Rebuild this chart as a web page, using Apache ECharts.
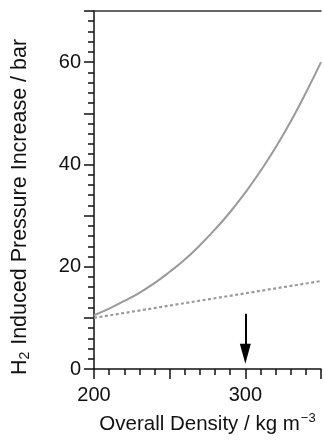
<!DOCTYPE html>
<html>
<head>
<meta charset="utf-8">
<script src="https://cdn.jsdelivr.net/npm/echarts@6/dist/echarts.min.js"></script>
<style>html,body{margin:0;padding:0;background:#fff;}#c{width:324px;height:440px;}</style>
</head>
<body>
<div id="c"></div>
<script>
// Data
const densityTotal = [200, 210, 220, 230, 240, 250, 260, 270, 280, 290, 300, 310, 320, 330, 340, 350];
const pressureTotal = [10.5, 11.8, 13.3, 14.9, 16.8, 19.0, 21.4, 24.2, 27.3, 30.7, 34.5, 38.7, 43.3, 48.4, 54.0, 60.0];
const densityDotted = [200, 250, 300, 350];
const pressureDotted = [10.0, 12.4, 14.8, 17.2];
const arrowX = 300;
const arrowFrom = 10.8;
const arrowTo = 3;
const xTickLabels = [200, 300];
const yTickLabels = [0, 20, 40, 60];

const FONT = 'Liberation Sans';
const INK = '#111';
const GRAY = '#9a9a9a';

const chart = echarts.init(document.getElementById('c'), null, {renderer: 'canvas'});
chart.setOption({
  backgroundColor: '#fff',
  animation: false,
  grid: {left: 92, top: 11, right: 0, bottom: 67},
  xAxis: [{
    type: 'value', min: 200, max: 350, interval: 50,
    axisLine: {show: true, onZero: false, lineStyle: {color: INK, width: 1.5}},
    axisTick: {show: true, inside: false, length: 10, lineStyle: {color: INK, width: 1.5}},
    minorTick: {show: true, splitNumber: 5, length: 6, lineStyle: {color: INK, width: 1.5}},
    splitLine: {show: false},
    axisLabel: {
      margin: 16, fontFamily: FONT, fontSize: 20, color: INK,
      formatter: v => xTickLabels.includes(v) ? String(v) : ''
    },
    name: '{n|Overall Density / kg m}{s|−3}',
    nameLocation: 'middle', nameGap: 43,
    nameTextStyle: {
      rich: {
        n: {fontFamily: FONT, fontSize: 20.5, color: INK, lineHeight: 24},
        s: {fontFamily: FONT, fontSize: 13, color: INK, verticalAlign: 'top', lineHeight: 24, padding: [0, 0, 10, 1]}
      }
    }
  }, {
    type: 'value', min: 200, max: 350, position: 'top',
    axisLine: {show: true, onZero: false, lineStyle: {color: '#333', width: 1.5}},
    axisTick: {show: false}, axisLabel: {show: false}, splitLine: {show: false}
  }],
  yAxis: {
    type: 'value', min: 0, max: 70, interval: 10,
    axisLine: {show: true, onZero: false, lineStyle: {color: INK, width: 1.5}},
    axisTick: {show: true, inside: false, length: 10, lineStyle: {color: INK, width: 1.5}},
    minorTick: {show: true, splitNumber: 5, length: 6, lineStyle: {color: INK, width: 1.5}},
    splitLine: {show: false},
    axisLabel: {
      margin: 13, fontFamily: FONT, fontSize: 20, color: INK,
      formatter: v => yTickLabels.includes(v) ? String(v) : ''
    },
    name: '{n|H}{b|2}{n| Induced Pressure Increase / bar}',
    nameLocation: 'middle', nameGap: 62, nameRotate: 90,
    nameTextStyle: {
      padding: [0, 34, 0, 0],
      rich: {
        n: {fontFamily: FONT, fontSize: 21.5, color: INK, lineHeight: 24},
        b: {fontFamily: FONT, fontSize: 14, color: INK, verticalAlign: 'bottom', lineHeight: 24, padding: [10, 1, 0, 0]}
      }
    }
  },
  series: [{
    type: 'line', xAxisIndex: 0,
    data: densityTotal.map((d, i) => [d, pressureTotal[i]]),
    smooth: true, symbol: 'none',
    lineStyle: {color: GRAY, width: 2}
  }, {
    type: 'line', xAxisIndex: 0,
    data: densityDotted.map((d, i) => [d, pressureDotted[i]]),
    symbol: 'none',
    lineStyle: {color: GRAY, width: 2.2, type: [3, 2.5]},
    markLine: {
      silent: true, symbol: ['none', 'triangle'], symbolSize: [11, 20],
      label: {show: false},
      itemStyle: {color: '#000'},
      lineStyle: {color: '#000', width: 2, type: 'solid'},
      data: [[{coord: [arrowX, arrowFrom]}, {coord: [arrowX, arrowTo]}]]
    }
  }]
});
</script>
</body>
</html>
